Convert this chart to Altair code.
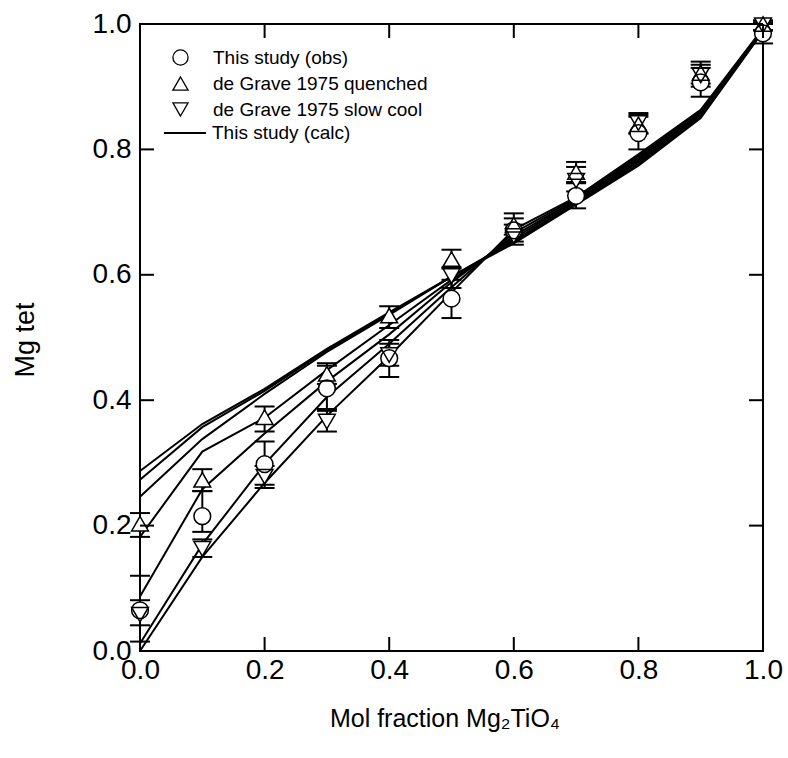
import altair as alt
import pandas as pd

# ---------------- data ----------------
x_vals = [0.0, 0.1, 0.2, 0.3, 0.4, 0.5, 0.6, 0.7, 0.8, 0.9, 1.0]

# This study (obs): value, lower and upper error limits
obs_y  = [0.065, 0.215, 0.298, 0.419, 0.467, 0.562, 0.671, 0.726, 0.826, 0.907, 0.985]
obs_lo = [0.015, 0.190, 0.265, 0.386, 0.437, 0.531, 0.653, 0.706, 0.800, 0.884, 0.969]
obs_hi = [0.120, 0.255, 0.334, 0.455, 0.496, 0.592, 0.690, 0.746, 0.852, 0.930, 1.000]

# de Grave 1975 quenched
q_y  = [0.203, 0.273, 0.373, 0.442, 0.535, 0.625, 0.680, 0.764, 0.840, 0.922, 1.000]
q_lo = [0.182, 0.255, 0.350, 0.426, 0.515, 0.610, 0.664, 0.748, 0.825, 0.905, 0.990]
q_hi = [0.220, 0.290, 0.390, 0.459, 0.550, 0.640, 0.698, 0.780, 0.858, 0.940, 1.006]

# de Grave 1975 slow cool
s_y  = [0.058, 0.163, 0.278, 0.366, 0.472, 0.598, 0.662, 0.750, 0.842, 0.918, 0.998]
s_lo = [0.041, 0.150, 0.260, 0.350, 0.455, 0.579, 0.648, 0.733, 0.826, 0.900, 0.990]
s_hi = [0.081, 0.178, 0.295, 0.383, 0.490, 0.612, 0.680, 0.772, 0.855, 0.935, 1.003]

# This study (calc): family of calculated curves
calc_1 = [0.287, 0.362, 0.418, 0.482, 0.540, 0.597, 0.650, 0.712, 0.774, 0.850, 0.988]
calc_2 = [0.273, 0.357, 0.415, 0.480, 0.538, 0.597, 0.652, 0.714, 0.777, 0.852, 0.989]
calc_3 = [0.246, 0.338, 0.410, 0.477, 0.536, 0.597, 0.654, 0.716, 0.780, 0.855, 0.990]
calc_4 = [0.182, 0.318, 0.372, 0.448, 0.520, 0.592, 0.658, 0.718, 0.783, 0.857, 0.990]
calc_5 = [0.087, 0.258, 0.347, 0.430, 0.505, 0.588, 0.662, 0.720, 0.786, 0.859, 0.991]
calc_6 = [0.012, 0.170, 0.298, 0.405, 0.490, 0.580, 0.667, 0.722, 0.789, 0.861, 0.992]
calc_7 = [0.000, 0.150, 0.268, 0.375, 0.470, 0.572, 0.672, 0.724, 0.792, 0.863, 0.993]

series_names = ["This study (obs)", "de Grave 1975 quenched", "de Grave 1975 slow cool"]
series_shapes = ["circle", "triangle-up", "triangle-down"]
calc_name = "This study (calc)"
tick_vals = [0.0, 0.2, 0.4, 0.6, 0.8, 1.0]

# ---------------- tables ----------------
rows = []
for name, ys, los, his in [(series_names[0], obs_y, obs_lo, obs_hi),
                           (series_names[1], q_y, q_lo, q_hi),
                           (series_names[2], s_y, s_lo, s_hi)]:
    for xv, yv, lo, hi in zip(x_vals, ys, los, his):
        rows.append({"x": xv, "y": yv, "lo": lo, "hi": hi, "series": name})
pts = pd.DataFrame(rows)

lrows = []
for i, arr in enumerate([calc_1, calc_2, calc_3, calc_4, calc_5, calc_6, calc_7]):
    for xv, yv in zip(x_vals, arr):
        lrows.append({"x": xv, "y": yv, "curve": i, "kind": calc_name})
lines = pd.DataFrame(lrows)

ticks_x = pd.DataFrame({"x": tick_vals})
ticks_y = pd.DataFrame({"y": tick_vals})

FONT = "Liberation Sans"
LFONT = "'Liberation Sans Narrow', 'Liberation Sans'"
W, H = 623, 627
TL = 14
MSIZE = 280

xscale = alt.Scale(domain=[0, 1], nice=False, zero=False)
yscale = alt.Scale(domain=[0, 1], nice=False, zero=False)

xaxis = alt.Axis(values=tick_vals, format=".1f", ticks=False, tickSize=0, domain=False,
                 grid=False, labelFlush=False, labelOverlap=False, labelFont=FONT,
                 labelFontSize=28, labelColor="black", labelPadding=5,
                 title="Mol fraction Mg₂TiO₄", titleFont=FONT, titleFontSize=25,
                 titleFontWeight="normal", titleColor="black", titleX=W / 2 - 7, titleY=75,
                 titleAlign="center", titleBaseline="alphabetic")
yaxis = alt.Axis(values=tick_vals, format=".1f", ticks=False, tickSize=0, domain=False,
                 grid=False, labelFlush=False, labelOverlap=False, labelFont=FONT,
                 labelFontSize=28, labelColor="black", labelPadding=9,
                 title="Mg tet", titleFont=FONT, titleFontSize=27, titleFontWeight="normal",
                 titleColor="black", titleX=-107, titleY=H / 2 + 2, titleAngle=-90,
                 titleAlign="center", titleBaseline="alphabetic")

X = alt.X("x:Q", scale=xscale, axis=xaxis)
Y = alt.Y("y:Q", scale=yscale, axis=yaxis)

calc_lines = alt.Chart(lines).mark_line(strokeWidth=2).encode(
    x=X, y=Y, detail="curve:N",
    color=alt.Color("kind:N", scale=alt.Scale(domain=[calc_name], range=["black"]),
                    legend=alt.Legend(orient="none", legendX=23, legendY=87, title=None,
                                      symbolType="stroke", symbolSize=1764,
                                      symbolStrokeWidth=2, symbolStrokeColor="black",
                                      labelFont=LFONT, labelFontSize=19, labelColor="black",
                                      labelLimit=400, labelOffset=5, padding=0)),
)

err = alt.Chart(pts).mark_rule(strokeWidth=2, color="black").encode(
    x=X, y=alt.Y("lo:Q", scale=yscale, axis=yaxis), y2="hi:Q")

caps = alt.Chart(pts).transform_fold(["lo", "hi"], as_=["end", "yv"]).mark_tick(
    orient="horizontal", size=20, thickness=2, color="black", opacity=1).encode(
    x=X, y=alt.Y("yv:Q", scale=yscale, axis=yaxis))

# white interiors of the open markers (one layer per series, fixed shape)
fills = [
    alt.Chart(pts).transform_filter(alt.datum.series == name).mark_point(
        shape=shp, filled=True, color="white", opacity=1, size=MSIZE).encode(x=X, y=Y)
    for name, shp in zip(series_names, series_shapes)
]

# open marker outlines, carrying the legend
outlines = alt.Chart(pts).mark_point(filled=False, color="black", strokeWidth=1.5,
                                     opacity=1, size=MSIZE).encode(
    x=X, y=Y,
    shape=alt.Shape("series:N", scale=alt.Scale(domain=series_names, range=series_shapes),
                    legend=alt.Legend(orient="none", legendX=31, legendY=24, title=None,
                                      symbolSize=230, symbolStrokeWidth=1.3,
                                      labelFont=LFONT, labelFontSize=19, labelColor="black",
                                      labelLimit=400, labelOffset=23, rowPadding=6,
                                      padding=0)),
)

tb = alt.Chart(ticks_x).mark_rule(strokeWidth=2, color="black").encode(
    x=X, y=alt.value(H), y2=alt.value(H - TL))
tt = alt.Chart(ticks_x).mark_rule(strokeWidth=2, color="black").encode(
    x=X, y=alt.value(0), y2=alt.value(TL))
tl = alt.Chart(ticks_y).mark_rule(strokeWidth=2, color="black").encode(
    y=Y, x=alt.value(0), x2=alt.value(TL))
tr = alt.Chart(ticks_y).mark_rule(strokeWidth=2, color="black").encode(
    y=Y, x=alt.value(W), x2=alt.value(W - TL))

chart = alt.layer(calc_lines, err, caps, *fills, outlines, tb, tt, tl, tr).properties(
    width=W, height=H,
    autosize=alt.AutoSizeParams(type="none"),
    padding={"left": 140, "top": 24, "right": 25, "bottom": 107},
    background="white",
).configure_view(stroke="black", strokeWidth=2)

chart.save("out.html", embed_options={"renderer": "svg", "actions": False})
